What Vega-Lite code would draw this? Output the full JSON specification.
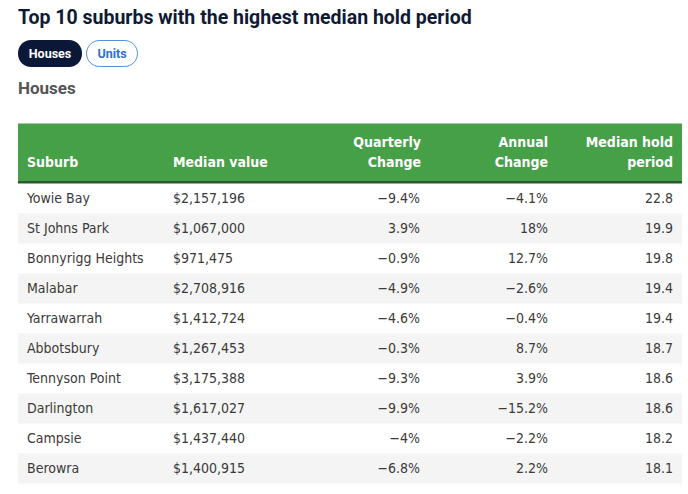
{
  "$schema": "https://vega.github.io/schema/vega-lite/v6.json",
  "width": 688,
  "height": 494,
  "autosize": {"type": "fit", "contains": "padding"},
  "padding": 0,
  "background": "white",
  "config": {"view": {"stroke": null}},
  "datasets": {
    "houses": [
      {"rank": 1, "suburb": "Yowie Bay", "median_value": 2157196, "quarterly": -0.094, "annual": -0.041, "hold": 22.8},
      {"rank": 2, "suburb": "St Johns Park", "median_value": 1067000, "quarterly": 0.039, "annual": 0.18, "hold": 19.9},
      {"rank": 3, "suburb": "Bonnyrigg Heights", "median_value": 971475, "quarterly": -0.009, "annual": 0.127, "hold": 19.8},
      {"rank": 4, "suburb": "Malabar", "median_value": 2708916, "quarterly": -0.049, "annual": -0.026, "hold": 19.4},
      {"rank": 5, "suburb": "Yarrawarrah", "median_value": 1412724, "quarterly": -0.046, "annual": -0.004, "hold": 19.4},
      {"rank": 6, "suburb": "Abbotsbury", "median_value": 1267453, "quarterly": -0.003, "annual": 0.087, "hold": 18.7},
      {"rank": 7, "suburb": "Tennyson Point", "median_value": 3175388, "quarterly": -0.093, "annual": 0.039, "hold": 18.6},
      {"rank": 8, "suburb": "Darlington", "median_value": 1617027, "quarterly": -0.099, "annual": -0.152, "hold": 18.6},
      {"rank": 9, "suburb": "Campsie", "median_value": 1437440, "quarterly": -0.04, "annual": -0.022, "hold": 18.2},
      {"rank": 10, "suburb": "Berowra", "median_value": 1400915, "quarterly": -0.068, "annual": 0.022, "hold": 18.1}
    ]
  },
  "resolve": {"scale": {"y": "independent"}},
  "layer": [
    {
      "data": {"values": [{}]},
      "mark": {"type": "text", "align": "left", "baseline": "middle", "font": "Roboto", "fontSize": 19.5, "fontWeight": 700, "color": "#0f1a35"},
      "encoding": {
        "x": {"datum": 18, "type": "quantitative", "scale": {"domain": [0, 688], "nice": false, "zero": false}, "axis": null},
        "y": {"datum": 18, "type": "quantitative", "scale": {"domain": [0, 494], "reverse": true, "nice": false, "zero": false}, "axis": null},
        "text": {"value": "Top 10 suburbs with the highest median hold period"}
      }
    },
    {
      "data": {"values": [{}]},
      "mark": {"type": "rect", "fill": "#0b1736", "cornerRadius": 13},
      "encoding": {
        "x": {"datum": 18, "type": "quantitative", "scale": {"domain": [0, 688], "nice": false, "zero": false}, "axis": null},
        "x2": {"datum": 82},
        "y": {"datum": 40, "type": "quantitative", "scale": {"domain": [0, 494], "reverse": true, "nice": false, "zero": false}, "axis": null},
        "y2": {"datum": 67}
      }
    },
    {
      "data": {"values": [{}]},
      "mark": {"type": "rect", "fill": "white", "stroke": "#4a8fe0", "strokeWidth": 1, "cornerRadius": 13},
      "encoding": {
        "x": {"datum": 86.5, "type": "quantitative", "scale": {"domain": [0, 688], "nice": false, "zero": false}, "axis": null},
        "x2": {"datum": 137.5},
        "y": {"datum": 40.5, "type": "quantitative", "scale": {"domain": [0, 494], "reverse": true, "nice": false, "zero": false}, "axis": null},
        "y2": {"datum": 66.5}
      }
    },
    {
      "data": {"values": [{}]},
      "mark": {"type": "text", "align": "center", "baseline": "middle", "font": "Roboto", "fontSize": 12.5, "fontWeight": 700, "color": "white"},
      "encoding": {
        "x": {"datum": 50, "type": "quantitative", "scale": {"domain": [0, 688], "nice": false, "zero": false}, "axis": null},
        "y": {"datum": 54, "type": "quantitative", "scale": {"domain": [0, 494], "reverse": true, "nice": false, "zero": false}, "axis": null},
        "text": {"value": "Houses"}
      }
    },
    {
      "data": {"values": [{}]},
      "mark": {"type": "text", "align": "center", "baseline": "middle", "font": "Roboto", "fontSize": 12.5, "fontWeight": 700, "color": "#2d6fcf"},
      "encoding": {
        "x": {"datum": 112, "type": "quantitative", "scale": {"domain": [0, 688], "nice": false, "zero": false}, "axis": null},
        "y": {"datum": 54, "type": "quantitative", "scale": {"domain": [0, 494], "reverse": true, "nice": false, "zero": false}, "axis": null},
        "text": {"value": "Units"}
      }
    },
    {
      "data": {"values": [{}]},
      "mark": {"type": "text", "align": "left", "baseline": "middle", "font": "Roboto", "fontSize": 17, "fontWeight": 700, "color": "#555555"},
      "encoding": {
        "x": {"datum": 18, "type": "quantitative", "scale": {"domain": [0, 688], "nice": false, "zero": false}, "axis": null},
        "y": {"datum": 89, "type": "quantitative", "scale": {"domain": [0, 494], "reverse": true, "nice": false, "zero": false}, "axis": null},
        "text": {"value": "Houses"}
      }
    },
    {
      "data": {"values": [{}]},
      "mark": {"type": "rect", "fill": "#45a048"},
      "encoding": {
        "x": {"datum": 18, "type": "quantitative", "scale": {"domain": [0, 688], "nice": false, "zero": false}, "axis": null},
        "x2": {"datum": 682},
        "y": {"datum": 123.5, "type": "quantitative", "scale": {"domain": [0, 494], "reverse": true, "nice": false, "zero": false}, "axis": null},
        "y2": {"datum": 181}
      }
    },
    {
      "data": {"values": [{}]},
      "mark": {"type": "rect", "fill": "#2c5a2e"},
      "encoding": {
        "x": {"datum": 18, "type": "quantitative", "scale": {"domain": [0, 688], "nice": false, "zero": false}, "axis": null},
        "x2": {"datum": 682},
        "y": {"datum": 181, "type": "quantitative", "scale": {"domain": [0, 494], "reverse": true, "nice": false, "zero": false}, "axis": null},
        "y2": {"datum": 183.5}
      }
    },
    {
      "data": {"values": [{}]},
      "mark": {"type": "text", "align": "left", "baseline": "middle", "font": "DejaVu Sans Condensed, sans-serif", "fontSize": 14, "fontWeight": 700, "color": "white"},
      "encoding": {
        "x": {"datum": 27, "type": "quantitative", "scale": {"domain": [0, 688], "nice": false, "zero": false}, "axis": null},
        "y": {"datum": 163, "type": "quantitative", "scale": {"domain": [0, 494], "reverse": true, "nice": false, "zero": false}, "axis": null},
        "text": {"value": "Suburb"}
      }
    },
    {
      "data": {"values": [{}]},
      "mark": {"type": "text", "align": "left", "baseline": "middle", "font": "DejaVu Sans Condensed, sans-serif", "fontSize": 14, "fontWeight": 700, "color": "white"},
      "encoding": {
        "x": {"datum": 173, "type": "quantitative", "scale": {"domain": [0, 688], "nice": false, "zero": false}, "axis": null},
        "y": {"datum": 163, "type": "quantitative", "scale": {"domain": [0, 494], "reverse": true, "nice": false, "zero": false}, "axis": null},
        "text": {"value": "Median value"}
      }
    },
    {
      "data": {"values": [{}]},
      "mark": {"type": "text", "align": "right", "baseline": "middle", "font": "DejaVu Sans Condensed, sans-serif", "fontSize": 14, "fontWeight": 700, "color": "white"},
      "encoding": {
        "x": {"datum": 421, "type": "quantitative", "scale": {"domain": [0, 688], "nice": false, "zero": false}, "axis": null},
        "y": {"datum": 143, "type": "quantitative", "scale": {"domain": [0, 494], "reverse": true, "nice": false, "zero": false}, "axis": null},
        "text": {"value": "Quarterly"}
      }
    },
    {
      "data": {"values": [{}]},
      "mark": {"type": "text", "align": "right", "baseline": "middle", "font": "DejaVu Sans Condensed, sans-serif", "fontSize": 14, "fontWeight": 700, "color": "white"},
      "encoding": {
        "x": {"datum": 421, "type": "quantitative", "scale": {"domain": [0, 688], "nice": false, "zero": false}, "axis": null},
        "y": {"datum": 163, "type": "quantitative", "scale": {"domain": [0, 494], "reverse": true, "nice": false, "zero": false}, "axis": null},
        "text": {"value": "Change"}
      }
    },
    {
      "data": {"values": [{}]},
      "mark": {"type": "text", "align": "right", "baseline": "middle", "font": "DejaVu Sans Condensed, sans-serif", "fontSize": 14, "fontWeight": 700, "color": "white"},
      "encoding": {
        "x": {"datum": 548, "type": "quantitative", "scale": {"domain": [0, 688], "nice": false, "zero": false}, "axis": null},
        "y": {"datum": 143, "type": "quantitative", "scale": {"domain": [0, 494], "reverse": true, "nice": false, "zero": false}, "axis": null},
        "text": {"value": "Annual"}
      }
    },
    {
      "data": {"values": [{}]},
      "mark": {"type": "text", "align": "right", "baseline": "middle", "font": "DejaVu Sans Condensed, sans-serif", "fontSize": 14, "fontWeight": 700, "color": "white"},
      "encoding": {
        "x": {"datum": 548, "type": "quantitative", "scale": {"domain": [0, 688], "nice": false, "zero": false}, "axis": null},
        "y": {"datum": 163, "type": "quantitative", "scale": {"domain": [0, 494], "reverse": true, "nice": false, "zero": false}, "axis": null},
        "text": {"value": "Change"}
      }
    },
    {
      "data": {"values": [{}]},
      "mark": {"type": "text", "align": "right", "baseline": "middle", "font": "DejaVu Sans Condensed, sans-serif", "fontSize": 14, "fontWeight": 700, "color": "white"},
      "encoding": {
        "x": {"datum": 673, "type": "quantitative", "scale": {"domain": [0, 688], "nice": false, "zero": false}, "axis": null},
        "y": {"datum": 143, "type": "quantitative", "scale": {"domain": [0, 494], "reverse": true, "nice": false, "zero": false}, "axis": null},
        "text": {"value": "Median hold"}
      }
    },
    {
      "data": {"values": [{}]},
      "mark": {"type": "text", "align": "right", "baseline": "middle", "font": "DejaVu Sans Condensed, sans-serif", "fontSize": 14, "fontWeight": 700, "color": "white"},
      "encoding": {
        "x": {"datum": 673, "type": "quantitative", "scale": {"domain": [0, 688], "nice": false, "zero": false}, "axis": null},
        "y": {"datum": 163, "type": "quantitative", "scale": {"domain": [0, 494], "reverse": true, "nice": false, "zero": false}, "axis": null},
        "text": {"value": "period"}
      }
    },
    {
      "data": {"name": "houses"},
      "transform": [{"filter": "datum.rank % 2 == 0"}],
      "mark": {"type": "rect", "fill": "#f4f4f4"},
      "encoding": {
        "x": {"datum": 18, "type": "quantitative", "scale": {"domain": [0, 688], "nice": false, "zero": false}, "axis": null},
        "x2": {"datum": 682},
        "y": {"field": "rank", "type": "ordinal", "scale": {"domain": [1, 2, 3, 4, 5, 6, 7, 8, 9, 10], "range": [183.5, 483.5], "paddingInner": 0, "paddingOuter": 0}, "axis": null}
      }
    },
    {
      "data": {"name": "houses"},
      "mark": {"type": "text", "align": "left", "baseline": "middle", "font": "DejaVu Sans Condensed, sans-serif", "fontSize": 14, "color": "#3a3a3a"},
      "encoding": {
        "x": {"datum": 27, "type": "quantitative", "scale": {"domain": [0, 688], "nice": false, "zero": false}, "axis": null},
        "y": {"field": "rank", "type": "ordinal", "scale": {"domain": [1, 2, 3, 4, 5, 6, 7, 8, 9, 10], "range": [183.5, 483.5], "paddingInner": 0, "paddingOuter": 0}, "axis": null},
        "text": {"field": "suburb", "type": "nominal"}
      }
    },
    {
      "data": {"name": "houses"},
      "mark": {"type": "text", "align": "left", "baseline": "middle", "font": "DejaVu Sans Condensed, sans-serif", "fontSize": 14, "color": "#3a3a3a"},
      "encoding": {
        "x": {"datum": 173, "type": "quantitative", "scale": {"domain": [0, 688], "nice": false, "zero": false}, "axis": null},
        "y": {"field": "rank", "type": "ordinal", "scale": {"domain": [1, 2, 3, 4, 5, 6, 7, 8, 9, 10], "range": [183.5, 483.5], "paddingInner": 0, "paddingOuter": 0}, "axis": null},
        "text": {"field": "median_value", "type": "quantitative", "format": "$,.0f"}
      }
    },
    {
      "data": {"name": "houses"},
      "mark": {"type": "text", "align": "right", "baseline": "middle", "font": "DejaVu Sans Condensed, sans-serif", "fontSize": 14, "color": "#3a3a3a"},
      "encoding": {
        "x": {"datum": 420, "type": "quantitative", "scale": {"domain": [0, 688], "nice": false, "zero": false}, "axis": null},
        "y": {"field": "rank", "type": "ordinal", "scale": {"domain": [1, 2, 3, 4, 5, 6, 7, 8, 9, 10], "range": [183.5, 483.5], "paddingInner": 0, "paddingOuter": 0}, "axis": null},
        "text": {"field": "quarterly", "type": "quantitative", "format": ".1~%"}
      }
    },
    {
      "data": {"name": "houses"},
      "mark": {"type": "text", "align": "right", "baseline": "middle", "font": "DejaVu Sans Condensed, sans-serif", "fontSize": 14, "color": "#3a3a3a"},
      "encoding": {
        "x": {"datum": 548, "type": "quantitative", "scale": {"domain": [0, 688], "nice": false, "zero": false}, "axis": null},
        "y": {"field": "rank", "type": "ordinal", "scale": {"domain": [1, 2, 3, 4, 5, 6, 7, 8, 9, 10], "range": [183.5, 483.5], "paddingInner": 0, "paddingOuter": 0}, "axis": null},
        "text": {"field": "annual", "type": "quantitative", "format": ".1~%"}
      }
    },
    {
      "data": {"name": "houses"},
      "mark": {"type": "text", "align": "right", "baseline": "middle", "font": "DejaVu Sans Condensed, sans-serif", "fontSize": 14, "color": "#3a3a3a"},
      "encoding": {
        "x": {"datum": 673, "type": "quantitative", "scale": {"domain": [0, 688], "nice": false, "zero": false}, "axis": null},
        "y": {"field": "rank", "type": "ordinal", "scale": {"domain": [1, 2, 3, 4, 5, 6, 7, 8, 9, 10], "range": [183.5, 483.5], "paddingInner": 0, "paddingOuter": 0}, "axis": null},
        "text": {"field": "hold", "type": "quantitative", "format": ".1f"}
      }
    }
  ]
}
